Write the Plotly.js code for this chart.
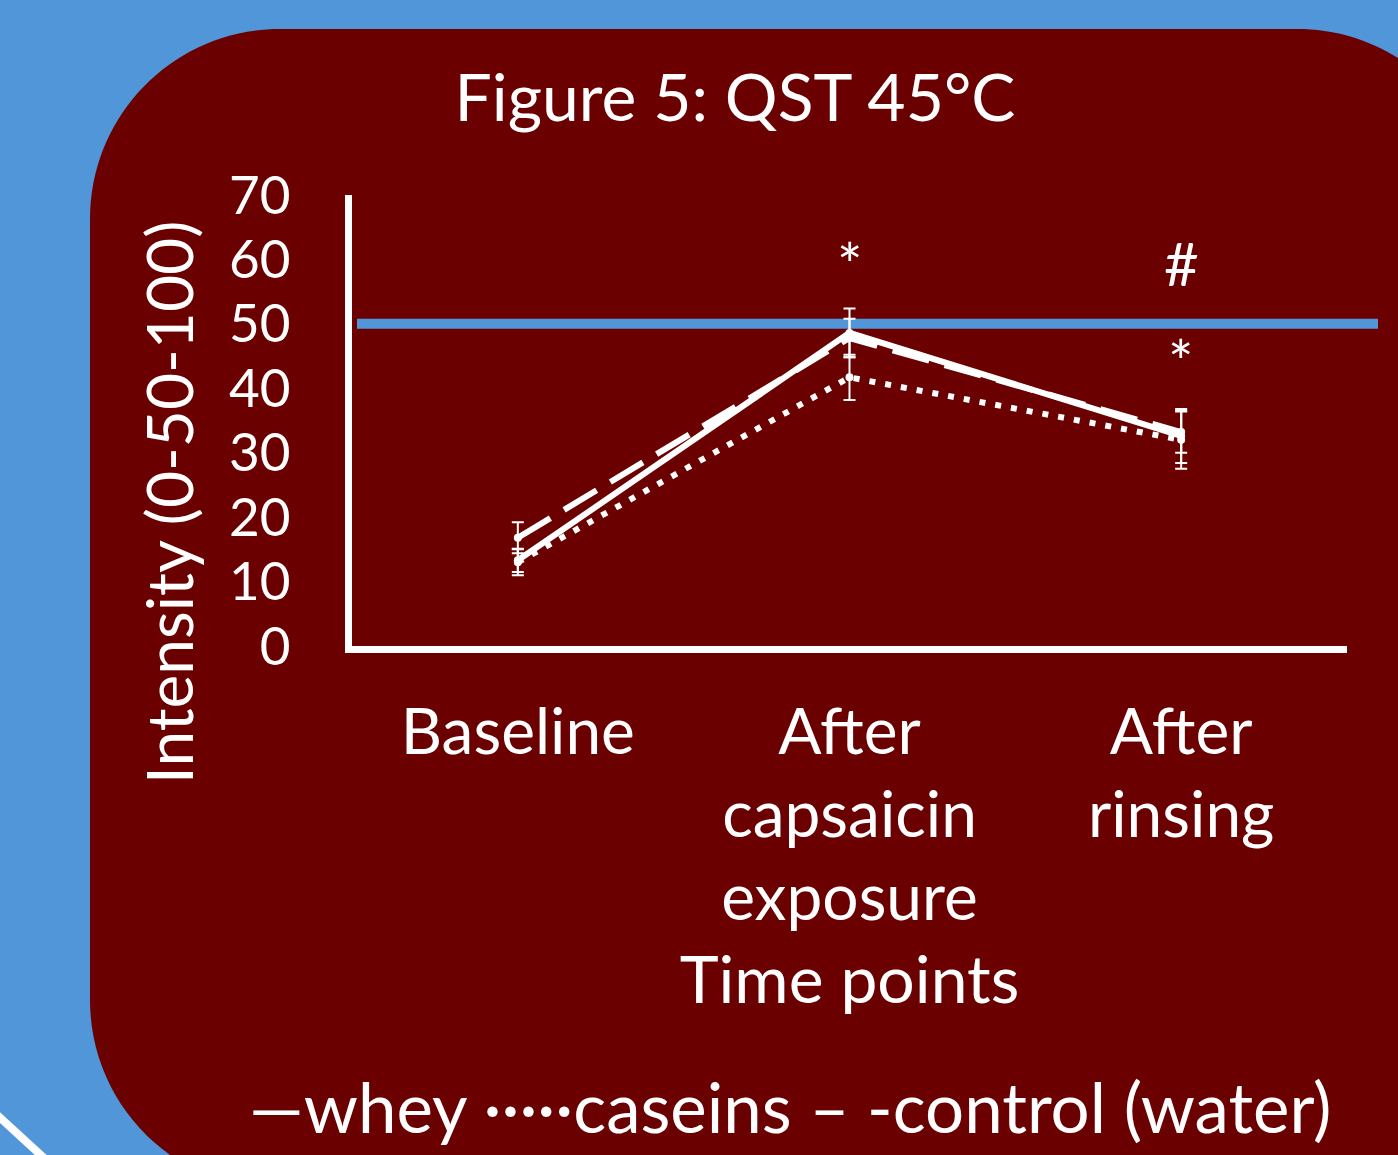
<!DOCTYPE html>
<html>
<head>
<meta charset="utf-8">
<script src="https://cdn.plot.ly/plotly-3.0.1.min.js"></script>
<style>html,body{margin:0;padding:0;background:#5096d9;}#chart{width:1398px;height:1155px;}</style>
</head>
<body>
<div id="chart"></div>
<script>
// ---- data ----
const categories = ["Baseline", "After<br>capsaicin<br>exposure", "After<br>rinsing"];
const wheyValues = [13.3, 48.6, 32.6];
const wheyErrors = [1.8, 3.8, 4.2];
const caseinsValues = [13.0, 41.7, 32.0];
const caseinsErrors = [2.0, 3.5, 4.5];
const controlValues = [16.8, 47.8, 33.2];
const controlErrors = [2.4, 3.0, 3.2];
const referenceLevel = 50;
const yTicks = [0, 10, 20, 30, 40, 50, 60, 70];
const marks = [
  {cat: 1, y: 59.3, text: "*"},
  {cat: 2, y: 59.5, text: "#"},
  {cat: 2, y: 44.3, text: "*"}
];
const legendText = "—whey ·····caseins – -control (water)";

// ---- layout helpers (pixel -> paper) ----
const W = 1398, H = 1155;
const L = 352, R = 51, T = 195, B = 509;
const pw = W - L - R, ph = H - T - B;
const px = x => (x - L) / pw;
const py = y => (H - B - y) / ph;

function roundRectPath(x0, y0, x1, y1, r) {
  const k = 0.5523 * r;
  const P = (x, y) => px(x).toFixed(5) + "," + py(y).toFixed(5);
  return "M" + P(x0, y0 + r) +
    " C" + P(x0, y0 + r - k) + " " + P(x0 + r - k, y0) + " " + P(x0 + r, y0) +
    " L" + P(x1 - r, y0) +
    " C" + P(x1 - r + k, y0) + " " + P(x1, y0 + r - k) + " " + P(x1, y0 + r) +
    " L" + P(x1, y1 - r) +
    " C" + P(x1, y1 - r + k) + " " + P(x1 - r + k, y1) + " " + P(x1 - r, y1) +
    " L" + P(x0 + r, y1) +
    " C" + P(x0 + r - k, y1) + " " + P(x0, y1 - r + k) + " " + P(x0, y1 - r) + " Z";
}

const FONT = "Lato, 'Open Sans', sans-serif";
const white = "#ffffff";
const xs = categories.map((c, i) => i);

function trace(name, vals, errs, dash) {
  return {
    type: "scatter", mode: "lines+markers", name: name,
    x: xs, y: vals,
    line: {color: white, width: 6, dash: dash},
    marker: {color: white, size: 8},
    error_y: {type: "data", array: errs, visible: true, color: white, thickness: 2, width: 6},
    showlegend: false, cliponaxis: false
  };
}

const data = [
  trace("control (water)", controlValues, controlErrors, "38px,16px"),
  trace("caseins", caseinsValues, caseinsErrors, "6px,10px"),
  trace("whey", wheyValues, wheyErrors, "solid")
];

const annotations = marks.map(m => ({
  x: m.cat, y: m.y, xref: "x", yref: "y", text: m.text, showarrow: false,
  xanchor: "center", yanchor: "middle",
  font: {family: FONT, size: 60, color: white}
}));
annotations.push({
  x: px(168), y: py(503), xref: "paper", yref: "paper", text: "Intensity (0-50-100)",
  xanchor: "center", yanchor: "middle",
  textangle: -90, showarrow: false, font: {family: FONT, size: 64, color: white}
});
annotations.push({
  x: px(790), y: py(1106), xref: "paper", yref: "paper", text: legendText,
  xanchor: "center", yanchor: "middle",
  showarrow: false, font: {family: FONT, size: 69, color: white}
});

const layout = {
  width: W, height: H,
  margin: {l: L, r: R, t: T, b: B, pad: 0},
  paper_bgcolor: "#5096d9",
  plot_bgcolor: "rgba(0,0,0,0)",
  title: {text: "Figure 5: QST 45°C", x: 735 / W, xanchor: "center", y: 1 - 98 / H, yanchor: "middle",
          font: {family: FONT, size: 66, color: white}},
  xaxis: {
    type: "linear", range: [-0.5, 2.5], tickmode: "array", tickvals: xs, ticktext: categories,
    showgrid: false, zeroline: false, showline: true, linecolor: white, linewidth: 7,
    ticks: "", tickfont: {family: FONT, size: 64, color: white}, ticklabelstandoff: 24,
    title: {text: "Time points", standoff: 26, font: {family: FONT, size: 66, color: white}},
    automargin: false, fixedrange: true
  },
  yaxis: {
    range: [0, 70], tickmode: "array", tickvals: yTicks,
    showgrid: false, zeroline: false, showline: true, linecolor: white, linewidth: 7,
    ticks: "", tickfont: {family: FONT, size: 53, color: white}, ticklabelstandoff: 44,
    automargin: false, fixedrange: true
  },
  shapes: [
    {type: "path", xref: "paper", yref: "paper", layer: "below",
     path: roundRectPath(90, 29, 1487, 1190, 190), fillcolor: "#6b0000", line: {width: 0}},
    {type: "line", xref: "paper", yref: "paper", layer: "below",
     x0: px(-4), y0: py(1114), x1: px(44), y1: py(1158), line: {color: white, width: 8}},
    {type: "line", xref: "paper", yref: "y", layer: "below",
     x0: px(357), x1: px(1378), y0: referenceLevel, y1: referenceLevel,
     line: {color: "#5096d9", width: 10}}
  ],
  annotations: annotations,
  showlegend: false
};

Plotly.newPlot("chart", data, layout, {displayModeBar: false, staticPlot: true});
</script>
</body>
</html>
